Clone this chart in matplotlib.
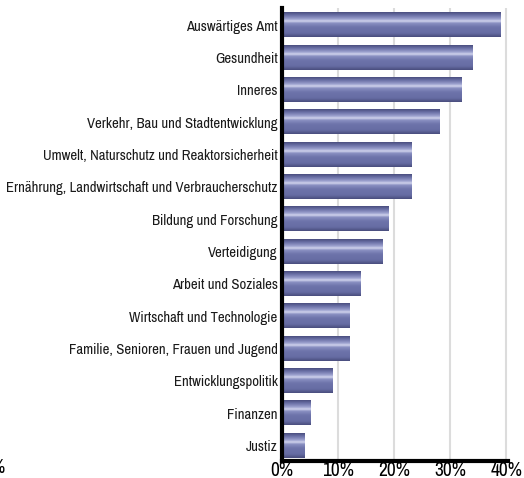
import matplotlib
matplotlib.use("Agg")
import matplotlib.pyplot as plt
import matplotlib.ticker as mticker
from matplotlib import font_manager
import numpy as np
from matplotlib.colors import LinearSegmentedColormap

# ---------------------------------------------------------------------------
# Data
# ---------------------------------------------------------------------------
ministries = [
    "Auswärtiges Amt",
    "Gesundheit",
    "Inneres",
    "Verkehr, Bau und Stadtentwicklung",
    "Umwelt, Naturschutz und Reaktorsicherheit",
    "Ernährung, Landwirtschaft und Verbraucherschutz",
    "Bildung und Forschung",
    "Verteidigung",
    "Arbeit und Soziales",
    "Wirtschaft und Technologie",
    "Familie, Senioren, Frauen und Jugend",
    "Entwicklungspolitik",
    "Finanzen",
    "Justiz",
]
share = [39, 34, 32, 28, 23, 23, 19, 18, 14, 12, 12, 9, 5, 4]
x_ticks = [0, 10, 20, 30, 40]

# condensed face (falls back to Roboto if not there)
installed = {f.name for f in font_manager.fontManager.ttflist}
narrow = "Archivo Narrow" in installed
FONT = ["Archivo Narrow" if narrow else "Roboto", "DejaVu Sans"]

# vertical "metallic" gradient used inside each bar (top -> bottom)
bar_cmap = LinearSegmentedColormap.from_list("metal", [
    (0.00, "#4b4f80"),
    (0.12, "#6a70a6"),
    (0.28, "#9ea3d0"),
    (0.36, "#d2d5ee"),
    (0.44, "#8a90c2"),
    (0.60, "#6e74ab"),
    (0.85, "#666ca3"),
    (1.00, "#4a4e7e"),
])
grad = np.linspace(0, 1, 64).reshape(-1, 1)

fig = plt.figure(figsize=(5.24, 4.78), dpi=100)
ax = fig.add_axes([0.538, 0.0356, 0.4315, 0.9477])

bar_h = 0.75
ypos = np.arange(len(ministries))
for y, v in zip(ypos, share):
    ax.imshow(grad, cmap=bar_cmap, aspect="auto", interpolation="bilinear",
              extent=[0, v, y + bar_h / 2, y - bar_h / 2], zorder=3)

ax.set_xlim(0, 40.3)
ax.set_ylim(len(ministries) - 1 + 0.48, -0.53)

ax.set_yticks(ypos)
ax.set_yticklabels(ministries, fontsize=10.6 if narrow else 8.6,
                   family=FONT, color="#1a1a1a")
ax.set_xticks(x_ticks)
ax.xaxis.set_major_formatter(mticker.FuncFormatter(lambda x, _: f"{x:.0f}%"))
for lbl in ax.get_xticklabels():
    lbl.set_family(FONT)
    lbl.set_fontsize(14 if narrow else 12)
ax.tick_params(axis="both", length=0)
ax.tick_params(axis="y", pad=3)
ax.tick_params(axis="x", pad=0)

ax.grid(axis="x", color="#dcdcdc", linewidth=1.5, zorder=0)
ax.set_axisbelow(True)
for side in ("top", "right"):
    ax.spines[side].set_visible(False)
for side in ("left", "bottom"):
    ax.spines[side].set_linewidth(3)
    ax.spines[side].set_color("black")
    ax.spines[side].set_zorder(4)

# clipped label from a neighbouring chart at the very left edge
fig.text(0.008, 0.003, "%", ha="right", va="bottom", fontsize=14, family=FONT)

fig.savefig("out.png", dpi=100)
